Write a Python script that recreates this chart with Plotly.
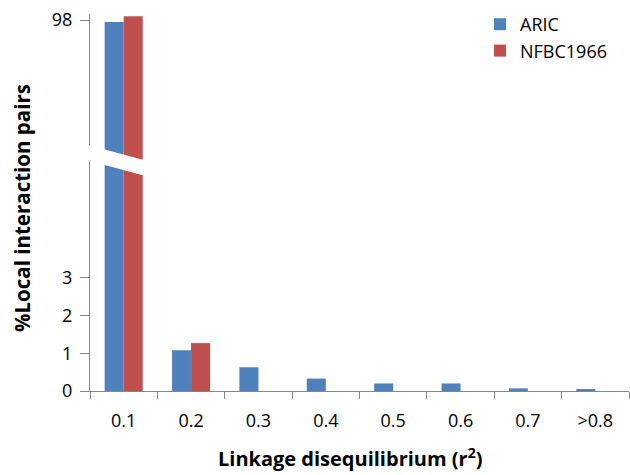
import plotly.graph_objects as go

categories = ["0.1", "0.2", "0.3", "0.4", "0.5", "0.6", "0.7", ">0.8"]
aric = [97.95, 1.08, 0.63, 0.33, 0.20, 0.20, 0.07, 0.05]
nfbc = [98.1, 1.27, None, None, None, None, None, None]
series_names = ["ARIC", "NFBC1966"]
lower_ticks = [0, 1, 2, 3]
upper_ticks = [98]

BLUE = "#4F81BD"
RED = "#C0504D"
AXIS = "#868686"
FONT = "Open Sans"

W, H = 630, 475
ML, MR, MT, MB = 90, 1, 14, 84
PW, PH = W - ML - MR, H - MT - MB


def px_x(x):
    return (x - ML) / PW


def px_y(y):
    return (H - MB - y) / PH


fig = go.Figure()
for name, vals, col in [(series_names[0], aric, BLUE), (series_names[1], nfbc, RED)]:
    fig.add_trace(go.Bar(x=categories, y=vals, name=name, marker_color=col,
                         marker_line_width=0, xaxis="x", yaxis="y", showlegend=True))
    fig.add_trace(go.Bar(x=categories, y=vals, name=name, marker_color=col,
                         marker_line_width=0, xaxis="x", yaxis="y2", showlegend=False))

lower_top_px, upper_bot_px = 142, 178
scale = 37.7  # px per unit
lower_range = [0, (H - MB - lower_top_px) / scale]
upper_top_val = 98 + (20 - MT) / scale
upper_range = [upper_top_val - (upper_bot_px - MT) / scale, upper_top_val]

# slanted break band
def cy(x):
    return 153 + 0.27 * (x - 89)

x0, x1, hw = 78, 152, 7.8
path = (f"M {px_x(x0)} {px_y(cy(x0) - hw)} L {px_x(x1)} {px_y(cy(x1) - hw)} "
        f"L {px_x(x1)} {px_y(cy(x1) + hw)} L {px_x(x0)} {px_y(cy(x0) + hw)} Z")

fig.update_layout(
    width=W, height=H,
    margin=dict(l=ML, r=MR, t=MT, b=MB),
    paper_bgcolor="white", plot_bgcolor="white",
    barmode="group", bargap=0.435, bargroupgap=0,
    font=dict(family=FONT, size=18, color="#000000"),
    xaxis=dict(
        domain=[0, 1], anchor="y", type="category",
        showline=True, linecolor=AXIS, linewidth=1.3,
        ticks="outside", tickson="boundaries", ticklen=7, tickcolor=AXIS,
        showgrid=False, zeroline=False, ticklabelstandoff=13,
        tickfont=dict(size=18),
    ),
    yaxis=dict(
        domain=[0, px_y(lower_top_px)], anchor="x", range=lower_range,
        tickvals=lower_ticks, showline=True, linecolor=AXIS, linewidth=1.3,
        ticks="outside", ticklen=9, tickcolor=AXIS, ticklabelstandoff=4,
        showgrid=False, zeroline=False, tickfont=dict(size=18),
    ),
    yaxis2=dict(
        domain=[px_y(upper_bot_px), 1], anchor="x", range=upper_range,
        tickvals=upper_ticks, showline=True, linecolor=AXIS, linewidth=1.3,
        ticks="outside", ticklen=9, tickcolor=AXIS, ticklabelstandoff=4,
        showgrid=False, zeroline=False, tickfont=dict(size=18),
    ),
    legend=dict(x=px_x(480), y=px_y(6), xanchor="left", yanchor="top",
                font=dict(size=18), bgcolor="rgba(0,0,0,0)", traceorder="normal"),
    shapes=[dict(type="path", xref="paper", yref="paper", path=path,
                 fillcolor="white", line=dict(width=0), layer="above")],
    annotations=[
        dict(text="<b>%Local interaction pairs</b>", textangle=-90,
             xref="paper", yref="paper", x=px_x(22), y=px_y(208),
             showarrow=False, font=dict(size=20.5),
             xanchor="center", yanchor="middle"),
        dict(text="<b>Linkage disequilibrium (r<sup>2</sup>)</b>",
             xref="paper", yref="paper", x=px_x(350), y=px_y(474),
             showarrow=False, font=dict(size=20), yshift=0,
             xanchor="center", yanchor="bottom"),
    ],
)

fig.write_html("out.html", post_script="document.body.style.margin='0px';",
               config={"displayModeBar": False})
